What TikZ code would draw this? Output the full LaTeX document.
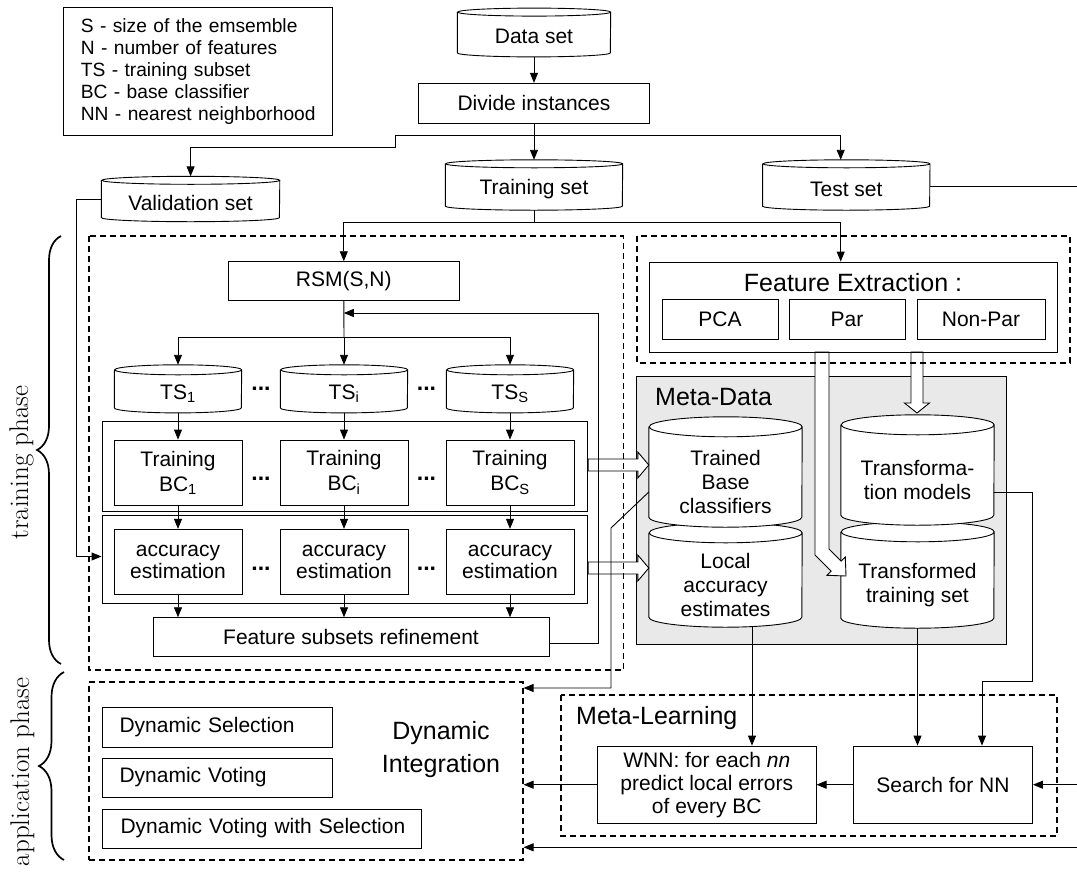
\documentclass[tikz,border=0pt]{standalone}
\usepackage{fontspec}
\setsansfont{Liberation Sans}
\usetikzlibrary{arrows.meta,calc,decorations.pathreplacing}
\pgfdeclarelayer{bgA}
\pgfdeclarelayer{bgB}
\pgfsetlayers{bgA,bgB,main}
\definecolor{mdgray}{RGB}{233,233,233}
\newcommand\fN{\sffamily\fontsize{21}{24}\selectfont}
\newcommand\fB{\sffamily\fontsize{25}{33}\selectfont}
\tikzset{
  base/.style={font=\fN, text=black, inner sep=0pt},
  box/.style={base, draw, line width=0.9pt, align=center},
  cylnode/.style={base, align=center},
  plain/.style={base},
  conn/.style={line width=0.9pt, -{Triangle[length=10pt,width=8pt]}},
  line/.style={line width=0.9pt},
  dbox/.style={draw, line width=1.1pt, dash pattern=on 6pt off 4pt},
  hollow/.style={draw, line width=0.9pt, fill=white, line join=miter},
  cylline/.style={draw, line width=0.9pt, fill=white},
  bracestyle/.style={decorate, line width=1.7pt},
  phase/.style={rotate=90, inner sep=0pt, font=\rmfamily\fontsize{27}{30}\selectfont},
  dots/.style={base, font=\sffamily\bfseries\fontsize{23}{24}\selectfont},
}
% name, x radius, ellipse half height
\newcommand\drawcyl[3]{%
  \path[cylline] ($(#1.north west)+(0,-#3)$) -- ($(#1.south west)+(0,-#3)$)
    arc[start angle=180,end angle=360,x radius=#2pt,y radius=#3pt]
    -- ($(#1.north east)+(0,-#3)$)
    arc[start angle=0,end angle=180,x radius=#2pt,y radius=#3pt]
    arc[start angle=180,end angle=360,x radius=#2pt,y radius=#3pt];}
% from node, to node, y
\newcommand\hollowarrow[3]{%
  \draw[hollow] ($(#1.east |- 0,#3)+(0,-6)$) -- ($(#2.west |- 0,#3)+(-11,-6)$)
    -- ($(#2.west |- 0,#3)+(-11,-13)$) -- (#2.west |- 0,#3)
    -- ($(#2.west |- 0,#3)+(-11,13)$) -- ($(#2.west |- 0,#3)+(-11,6)$)
    -- ($(#1.east |- 0,#3)+(0,6)$) -- cycle;}
\begin{document}
\begin{tikzpicture}[x=1pt,y=-1pt]
\useasboundingbox (0,0) rectangle (1077,873);
\begin{pgfonlayer}{bgA}
  \fill[white] (0,0) rectangle (1077,873);
  \draw[fill=mdgray, line width=0.9pt] (636,376) rectangle (1006,644);
\end{pgfonlayer}

% hollow arrows (drawn first on main layer)
\draw[hollow] (815,352) -- (815,554.9) -- (831.15,571.05) -- (826.9,575.3) -- (846,576)
  -- (845.3,556.9) -- (841.05,561.15) -- (829,549.1) -- (829,352) -- cycle;
\draw[hollow] (911,352) -- (911,403) -- (904.5,403) -- (917,413) -- (929.5,403) -- (923,403) -- (923,352) -- cycle;

% legend
\node[box, font=\sffamily\fontsize{19.2}{21.85}\selectfont, align=left, text width=234pt,
      minimum width=268.3pt, minimum height=128.4pt] (legend) at (197.85,71.5)
  {\mbox{S - size of the emsemble}\\\mbox{N - number of features}\\\mbox{TS - training subset}\\\mbox{BC - base classifier}\\\mbox{NN - nearest neighborhood}};

% top part
\node[cylnode, minimum width=153pt, minimum height=40.4pt] (data) at (534,36.5) {Data set};
\node[box, minimum width=231pt, minimum height=40pt] (divide) at (534,103.3) {Divide instances};
\node[cylnode, minimum width=178pt, minimum height=37pt] (val) at (190.6,203) {Validation set};
\node[cylnode, minimum width=177pt, minimum height=42pt] (train) at (534,189) {Training set};
\node[cylnode, minimum width=167pt, minimum height=42pt] (test) at (846.3,189) {Test set};
\coordinate (data-t) at ($(data.north)+(0,-8)$);
\coordinate (val-t) at ($(val.north)+(0,-8)$);
\coordinate (train-t) at ($(train.north)+(0,-8)$);
\coordinate (test-t) at ($(test.north)+(0,-8)$);

% training block
\node[box, minimum width=230.4pt, minimum height=39pt] (rsm) at (343.8,281.2) {RSM(S,N)};
\node[cylnode, minimum width=127pt, minimum height=37.7pt] (ts1) at (178,393.85) {TS\textsubscript{1}};
\node[cylnode, minimum width=127pt, minimum height=37.7pt] (tsi) at (344,393.85) {TS\textsubscript{i}};
\node[cylnode, minimum width=127pt, minimum height=37.7pt] (tss) at (510,393.85) {TS\textsubscript{S}};
\coordinate (ts1-t) at ($(ts1.north)+(0,-10)$);
\coordinate (tsi-t) at ($(tsi.north)+(0,-10)$);
\coordinate (tss-t) at ($(tss.north)+(0,-10)$);
\node[dots] (dA1) at (261,389) {...};
\node[dots] (dA2) at (426.5,389) {...};

\node[box, minimum width=485.8pt, minimum height=90pt] (g1) at (344.9,466) {};
\node[box, minimum width=128pt, minimum height=65pt, font=\sffamily\fontsize{21}{25}\selectfont] (bc1) at (178,472.5) {Training\\BC\textsubscript{1}};
\node[box, minimum width=128pt, minimum height=65pt, font=\sffamily\fontsize{21}{25}\selectfont] (bci) at (344,472.5) {Training\\BC\textsubscript{i}};
\node[box, minimum width=128pt, minimum height=65pt, font=\sffamily\fontsize{21}{25}\selectfont] (bcs) at (510,472.5) {Training\\BC\textsubscript{S}};
\node[dots] (dB1) at (261,479) {...};
\node[dots] (dB2) at (426.5,479) {...};

\node[box, minimum width=485.8pt, minimum height=87.6pt] (g2) at (344.9,559.5) {};
\node[box, minimum width=128pt, minimum height=65pt, font=\sffamily\fontsize{21}{21.6}\selectfont] (acc1) at (178,561.8) {accuracy\\estimation};
\node[box, minimum width=128pt, minimum height=65pt, font=\sffamily\fontsize{21}{21.6}\selectfont] (acci) at (344,561.8) {accuracy\\estimation};
\node[box, minimum width=128pt, minimum height=65pt, font=\sffamily\fontsize{21}{21.6}\selectfont] (accs) at (510,561.8) {accuracy\\estimation};
\node[dots] (dC1) at (261,569) {...};
\node[dots] (dC2) at (426.5,569) {...};

\node[box, minimum width=396pt, minimum height=39pt] (fsr) at (351,637.2) {Feature subsets refinement};

% feature extraction
\node[box, minimum width=408pt, minimum height=90pt] (fe) at (853,307) {};
\node[plain, font=\fB] (fet) at (853,283) {Feature Extraction :};
\node[box, minimum width=116pt, minimum height=40pt] (pca) at (720,319) {PCA};
\node[box, minimum width=116pt, minimum height=40pt] (par) at (847,319) {Par};
\node[box, minimum width=128pt, minimum height=40pt] (npar) at (981,319) {Non-Par};

% meta-data
\node[plain, font=\fB, anchor=west] (mdt) at (655,397) {Meta-Data};
\node[cylnode, minimum width=153pt, minimum height=84pt] (la) at (725.5,585) {Local\\accuracy\\estimates};
\node[cylnode, minimum width=153pt, minimum height=90pt] (tb) at (725.5,482) {Trained\\Base\\classifiers};
\node[cylnode, minimum width=153pt, minimum height=86pt] (tt) at (917.5,585) {Transformed\\training set};
\node[cylnode, minimum width=153pt, minimum height=90pt] (tm) at (917.5,480) {Transforma-\\tion models};

% meta-learning
\node[plain, font=\fB, anchor=west] (mlt) at (576,718) {Meta-Learning};
\node[box, minimum width=218.5pt, minimum height=77.3pt, font=\sffamily\fontsize{21}{23}\selectfont] (wnn) at (706.8,784.7) {WNN: for each \textit{nn}\\predict local errors\\of every BC};
\node[box, minimum width=179pt, minimum height=77.3pt] (search) at (943,784.7) {Search for NN};

% dynamic integration
\node[dbox, minimum width=434pt, minimum height=178pt, inner sep=0pt] (dynint) at (306,771) {};
\node[plain, font=\fB, align=center] (dit) at (441,750) {Dynamic\\Integration};
\node[box, align=left, text width=195.5pt, minimum width=229.5pt, minimum height=40pt] (ds) at (217.25,727) {\mbox{Dynamic Selection}};
\node[box, align=left, text width=195.5pt, minimum width=229.5pt, minimum height=39pt] (dv) at (217.25,777.5) {\mbox{Dynamic Voting}};
\node[box, align=left, text width=282.5pt, minimum width=318.5pt, minimum height=39pt] (dvs) at (261.75,828.5) {\mbox{Dynamic Voting with Selection}};

% phases
\draw[bracestyle, decoration={brace, amplitude=24pt}] (61,664) -- (61,236);
\draw[bracestyle, decoration={brace, amplitude=25pt}] (64,860) -- (64,672);
\node[phase] (tp) at (21.5,462.5) {training phase};
\node[phase] (ap) at (22.5,772) {application phase};

% cylinder outlines
\begin{pgfonlayer}{bgB}
  \drawcyl{data}{76.5}{4}
  \drawcyl{val}{89}{4}
  \drawcyl{train}{88.5}{4}
  \drawcyl{test}{83.5}{4}
  \drawcyl{ts1}{63.5}{5}
  \drawcyl{tsi}{63.5}{5}
  \drawcyl{tss}{63.5}{5}
  \drawcyl{la}{76.5}{10}
  \drawcyl{tb}{76.5}{10}
  \drawcyl{tt}{76.5}{10}
  \drawcyl{tm}{76.5}{10}
\end{pgfonlayer}

% hollow arrows to meta-data
\hollowarrow{g1}{tb}{465}
\hollowarrow{g2}{la}{568}

% connectors: top
\coordinate (j1) at (534,135);
\coordinate (jv1) at (395,147.7);
\draw[conn] (data.south) -- (divide.north);
\draw[conn] (divide.south) -- (train-t);
\draw[conn] (j1) -| (jv1) -| (val-t);
\draw[conn] (j1) -| ($(test-t)+(-5.6,0)$);
\coordinate (j2) at (534,222.3);
\draw[line] (train.south) -- (j2);
\draw[conn] (j2) -| (rsm.north);
\draw[conn] (j2) -| ($(fe.north)+(-12.3,0)$);
\coordinate (jv2) at (76.4,0);
\draw[conn] ([yshift=4pt]val.west) -| ([yshift=3pt]g2.west -| jv2) -- ([yshift=3pt]g2.west);

% connectors: training block
\coordinate (j3) at (344,337.7);
\draw[line] (rsm.south) -- (j3);
\draw[conn] (j3) -- (tsi-t);
\draw[conn] (j3) -| (ts1-t);
\draw[conn] (j3) -| (tss-t);
\foreach \a/\b in {ts1/bc1, tsi/bci, tss/bcs, bc1/acc1, bci/acci, bcs/accs}
  \draw[conn] (\a.south) -- (\b.north);
\foreach \a in {acc1, acci, accs}
  \draw[conn] (\a.south) -- (\a.south |- fsr.north);
\coordinate (lp) at (598,313);
\draw[conn] ([yshift=-5.8pt]fsr.east) -| (lp) -- (rsm.south |- lp);

% connectors: meta parts
\coordinate (d1) at (611,528);
\coordinate (d2) at (611,688);
\draw[conn] ([yshift=-10pt]tb.west) -- (d1) -- (d2) -- (dynint.east |- d2);
\coordinate (la-o) at ([xshift=26.5pt]la.south);
\draw[conn] (la-o) -- (la-o |- wnn.north);
\draw[conn] (tt.south) -- (tt.south |- search.north);
\coordinate (tm1) at (1032,681.7);
\draw[conn] ([yshift=-12pt]tm.east) -| (tm1) -| ([xshift=39pt]search.north);
\coordinate (r2) at (1079,847.3);
\draw[conn] ([yshift=3pt]test.east) -| (r2) -- (dynint.east |- r2);
\draw[conn] (search.east -| r2) -- (search.east);
\draw[conn] (search.west) -- (wnn.east);
\draw[conn] (wnn.west) -- (dynint.east |- wnn.west);

% dashed frames
\draw[dbox] (89,236) rectangle (623.7,670);
\draw[dbox] (637,236) rectangle (1070,363);
\draw[dbox] (561,695) rectangle (1057,836);
\end{tikzpicture}
\end{document}
